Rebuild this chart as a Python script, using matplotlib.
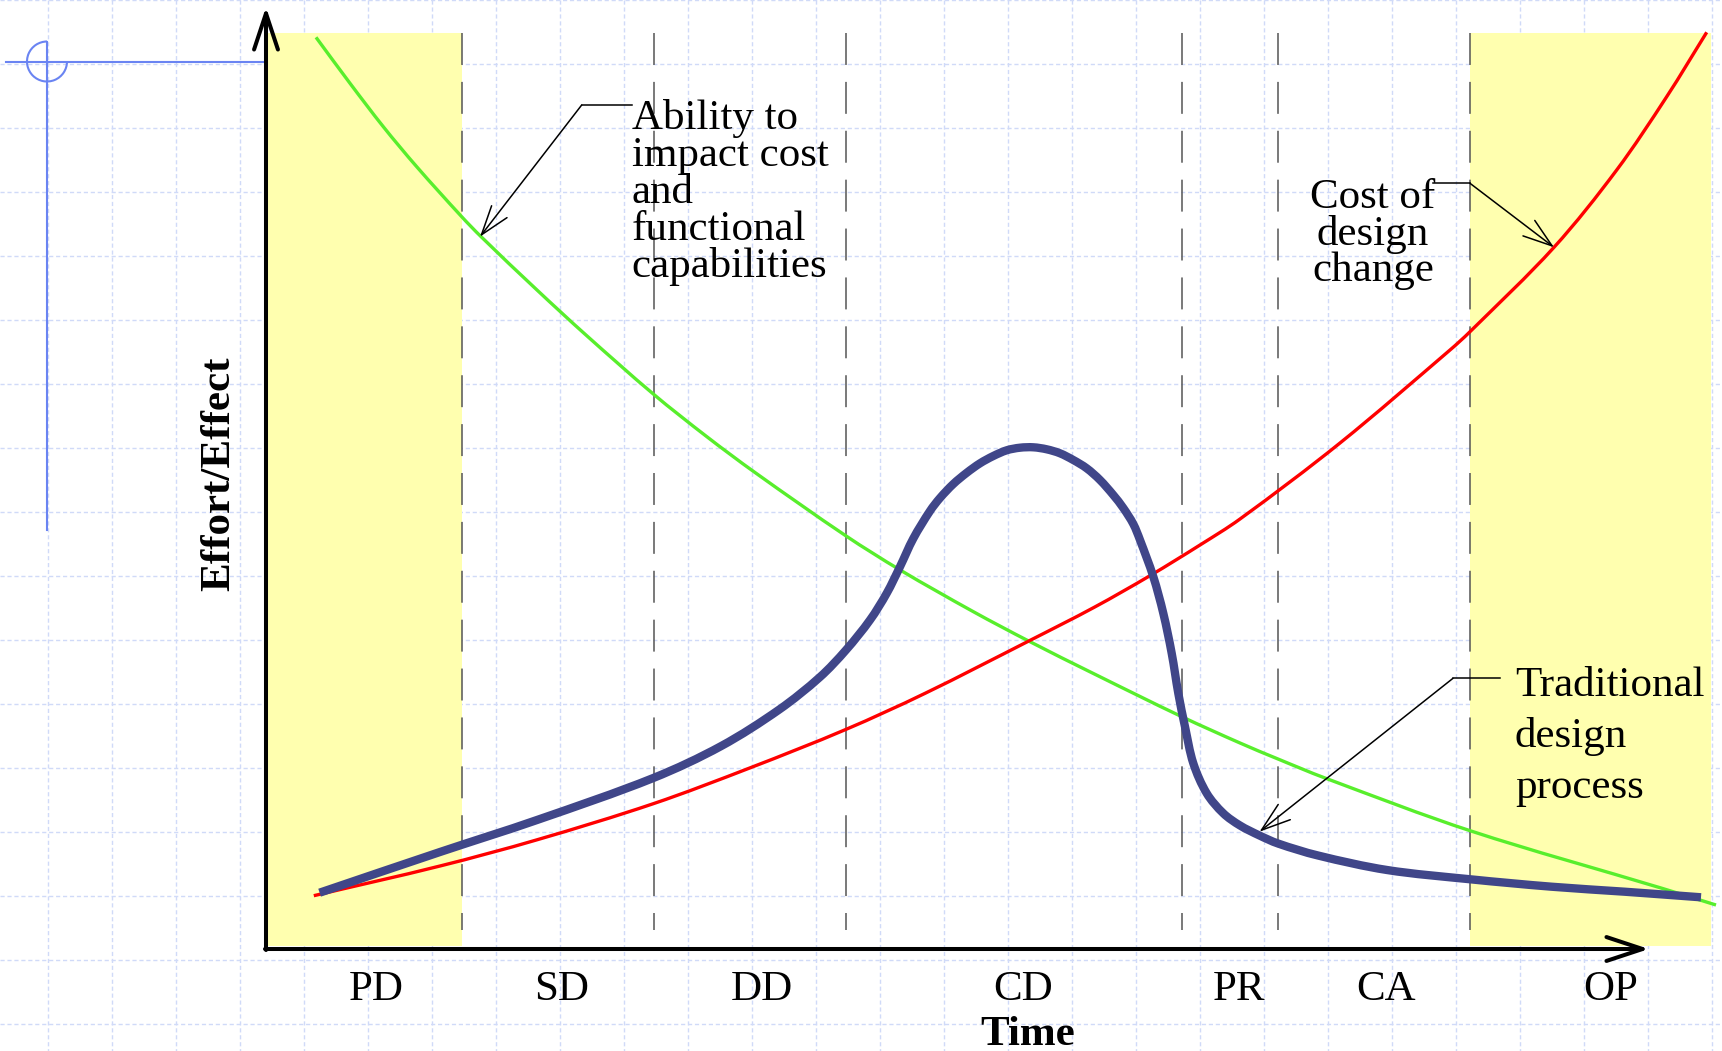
import matplotlib
matplotlib.use("Agg")
import matplotlib.pyplot as plt
import numpy as np
from matplotlib.patches import Rectangle, Arc, FancyArrowPatch, ArrowStyle, PathPatch
from matplotlib.path import Path

plt.rcParams['lines.scale_dashes'] = False
plt.rcParams['font.family'] = ['Liberation Serif', 'DejaVu Serif']

# ---------------- data (Time units, Effort units) ----------------
phase_labels = ["PD", "SD", "DD", "CD", "PR", "CA", "OP"]
label_t = [11.0, 29.6, 49.6, 75.7, 97.3, 112.0, 134.5]
phase_bounds = [19.6, 38.8, 58.0, 91.6, 101.2, 120.4]
shade_left = (0.0, 19.6)
shade_right = (120.4, 144.5)

ability_t = [5.0, 8.4, 11.73, 15.07, 19.57, 21.52, 27.1, 31.94, 38.73, 44.06, 48.9,
             57.97, 63.45, 70.72, 76.3, 82.84, 91.56, 97.4, 101.2, 105.9, 120.5,
             139.5, 145.0]
ability_e = [91.17, 86.57, 82.23, 78.23, 73.23, 71.22, 65.9, 61.45, 55.5, 51.25, 47.65,
             41.33, 37.88, 33.74, 30.78, 27.5, 23.24, 20.6, 19.0, 17.1, 11.8,
             6.1, 4.4]

cost_t = [4.78, 17.4, 27.1, 38.73, 48.42, 57.97, 65.87, 76.3, 82.84, 88.41, 93.4,
          97.4, 107.4, 118.4, 120.4, 128.8, 135.07, 140.07, 144.07]
cost_e = [5.33, 8.3, 10.92, 14.53, 18.12, 21.95, 25.55, 30.81, 34.18, 37.34, 40.4,
          43.0, 50.6, 59.9, 61.73, 70.17, 77.9, 85.23, 91.67]

trad_t = [5.36, 17.4, 27.1, 38.73, 45.51, 51.33, 55.4, 58.0, 60.4, 62.07, 63.4,
          64.73, 66.4, 67.4, 68.73, 70.07, 71.4, 72.73, 74.07, 75.4, 76.73, 78.07,
          79.4, 80.73, 82.07, 83.4, 84.73, 85.73, 86.73, 87.4, 88.73, 89.73, 90.57,
          91.23, 91.9, 92.73, 94.07, 95.73, 97.4, 99.35, 101.2, 105.2, 112.1,
          120.44, 128.55, 135.85, 143.5]
trad_e = [5.63, 9.7, 12.9, 17.1, 20.29, 23.95, 27.2, 29.9, 32.9, 35.57, 38.23,
          41.05, 43.8, 45.1, 46.5, 47.62, 48.57, 49.3, 49.87, 50.13, 50.17, 49.97,
          49.57, 48.9, 48.07, 46.9, 45.4, 44.1, 42.5, 40.9, 37.23, 33.57, 29.57,
          25.57, 22.23, 18.57, 15.57, 13.57, 12.35, 11.35, 10.55, 9.35, 7.9,
          6.97, 6.23, 5.73, 5.17]

# ---------------- figure ----------------
W, H, DPI = 1722, 1051, 100
fig = plt.figure(figsize=(W / DPI, H / DPI), dpi=DPI)
fig.patch.set_facecolor('white')

# background sheet grid (pixel coordinates)
bg = fig.add_axes([0, 0, 1, 1])
bg.set_xlim(0, W)
bg.set_ylim(H, 0)
bg.axis('off')
grid_col = '#d0daf8'
for gx in 47.7 + 64.03 * np.arange(27):
    bg.plot([gx, gx], [0, H], color=grid_col, lw=1.0, ls=(0, (3, 2)), zorder=0)
for gy in 64.0 * np.arange(17):
    bg.plot([0, W], [gy, gy], color=grid_col, lw=1.0, ls=(0, (3, 2)), zorder=0)

# crosshair marker
cross_col = '#6a84f2'
bg.plot([6, 269], [61.5, 61.5], color=cross_col, lw=1.5, zorder=1)
bg.plot([47, 47], [41.5, 530], color=cross_col, lw=1.5, zorder=1)
bg.add_patch(Arc((47, 61.5), 40, 40, theta1=0, theta2=270, color=cross_col, lw=1.5, zorder=1))

# main axes in data units (1 unit = 10 px on both axes)
ax = fig.add_axes([0, 0, 1, 1])
ax.set_xlim(-26.6, 145.6)
ax.set_ylim(-10.2, 94.9)
ax.axis('off')
ax.patch.set_alpha(0)


def smooth_curve(xs, ys):
    """Smooth cubic Bezier path passing through every given point."""
    P = np.column_stack([xs, ys]).astype(float)
    n = len(P)
    d = np.hypot(*np.diff(P, axis=0).T)
    T = np.zeros_like(P)
    T[0] = (P[1] - P[0]) / d[0]
    T[-1] = (P[-1] - P[-2]) / d[-1]
    for i in range(1, n - 1):
        T[i] = (P[i + 1] - P[i - 1]) / (d[i - 1] + d[i])
    verts = [P[0]]
    codes = [Path.MOVETO]
    for i in range(n - 1):
        verts += [P[i] + T[i] * d[i] / 3, P[i + 1] - T[i + 1] * d[i] / 3, P[i + 1]]
        codes += [Path.CURVE4] * 3
    return Path(verts, codes)


top_e, bot_e = 91.6, 0.33
for (a, b) in (shade_left, shade_right):
    ax.add_patch(Rectangle((a, bot_e), b - a, top_e - bot_e, facecolor='#ffffaf',
                           edgecolor='none', zorder=1))

for xb in phase_bounds:
    ax.plot([xb, xb], [top_e, 1.9], color='#555555', lw=1.1,
            ls=(0, (23, 12.2)), zorder=2)

for xs, ys, col, lw, z in ((ability_t, ability_e, '#58ee2c', 2.4, 3),
                           (cost_t, cost_e, '#ff0000', 2.4, 3),
                           (trad_t, trad_e, '#404689', 6.0, 4)):
    ax.add_patch(PathPatch(smooth_curve(xs, ys), facecolor='none', edgecolor=col, lw=lw,
                           capstyle='butt', joinstyle='round', zorder=z))

# axes arrows
axis_style = ArrowStyle('->', head_length=26, head_width=8.6)
ax.add_patch(FancyArrowPatch((0, -0.1), (0, 94.2), arrowstyle=axis_style, mutation_scale=1,
                             lw=2.9, color='black', shrinkA=0, shrinkB=0, zorder=6))
ax.add_patch(FancyArrowPatch((-0.1, 0), (138.3, 0), arrowstyle=axis_style, mutation_scale=1,
                             lw=2.9, color='black', shrinkA=0, shrinkB=0, zorder=6))

# phase labels
for lab, t in zip(phase_labels, label_t):
    ax.text(t, -5.1, lab, fontsize=31, ha='center', va='baseline', zorder=7)
ax.text(76.2, -9.6, "Time", fontsize=31, fontweight='bold', ha='center', va='baseline', zorder=7)
ax.text(-4.65, 47.57, "Effort/Effect", fontsize=31, fontweight='bold', rotation=90,
        ha='center', va='center', zorder=7)

# annotations (va='baseline' aligns the last line of a multi-line text)
note_style = ArrowStyle('->', head_length=21, head_width=7)
def note(text_xy, elbow, tip, text, ha, ls, text_anchor):
    ax.plot([text_anchor[0], elbow[0]], [text_anchor[1], elbow[1]], color='black', lw=1.1, zorder=6)
    ax.add_patch(FancyArrowPatch(elbow, tip, arrowstyle=note_style, mutation_scale=1, lw=1.1,
                                 color='black', shrinkA=0, shrinkB=0, zorder=6))
    ax.text(text_xy[0], text_xy[1], text, fontsize=31, ha=ha, va='baseline',
            multialignment=ha, linespacing=ls, zorder=7)

note((36.57, 67.17), (31.57, 84.4), (21.4, 71.23),
     "Ability to\nimpact cost\nand\nfunctional\ncapabilities", 'left', 0.95, (36.57, 84.4))
note((110.7, 66.77), (120.4, 76.57), (128.8, 70.17),
     "Cost of\ndesign\nchange", 'center', 0.93, (116.7, 76.57))
note((124.9, 15.1), (118.7, 27.07), (99.35, 11.73),
     "Traditional\ndesign\nprocess", 'left', 1.41, (123.4, 27.07))

fig.savefig("out.png", dpi=DPI, facecolor='white')
